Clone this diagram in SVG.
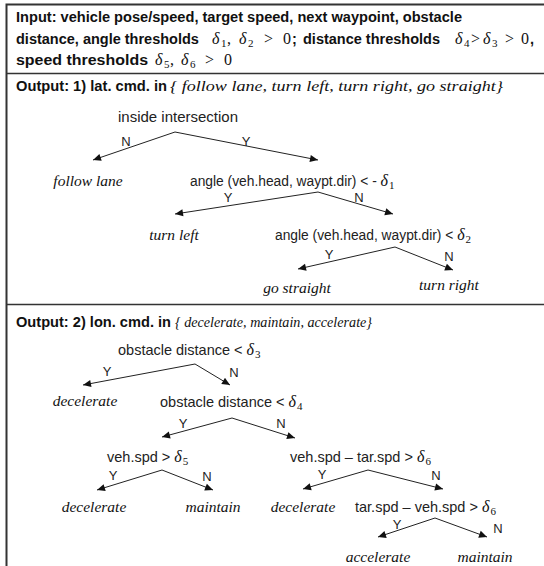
<svg xmlns="http://www.w3.org/2000/svg" width="544" height="566" viewBox="0 0 544 566">
<style>
.hd{font-family:"Liberation Sans",Arial,sans-serif;font-weight:bold;font-size:14.5px;fill:#111}
.hm{font-family:"Liberation Serif","Times New Roman",serif;font-size:16px;fill:#111}
.hi{font-family:"Liberation Serif","Times New Roman",serif;font-style:italic;font-size:15px;fill:#111}
.t{font-family:"Liberation Sans",Arial,sans-serif;font-size:14.5px;fill:#222}
.ta{font-family:"Liberation Sans",Arial,sans-serif;font-size:13.8px;fill:#222}
.lf{font-family:"Liberation Serif","Times New Roman",serif;font-style:italic;font-size:15.5px;fill:#111;text-anchor:middle}
.yn{font-family:"Liberation Sans",Arial,sans-serif;font-size:13px;fill:#222;text-anchor:middle}
.d{font-family:"Liberation Serif","Times New Roman",serif;font-style:italic;font-size:16px;fill:#111}
.s{font-family:"Liberation Serif","Times New Roman",serif;font-style:normal;font-size:11px;fill:#111}
.c line{stroke:#222;stroke-width:1}
</style>
<defs>
<marker id="ah" viewBox="0 0 10 10" refX="10" refY="5" markerWidth="9" markerHeight="8" markerUnits="userSpaceOnUse" orient="auto">
<path d="M0,0.5 L10,5 L0,9.5 z" fill="#111"/>
</marker>
</defs>
<rect width="544" height="566" fill="#fff"/>
<g id="frame" fill="none" stroke="#333">
<path d="M544,4.5 H6.5 V566" stroke-width="2"/>
<line x1="6" y1="73.5" x2="544" y2="73.5" stroke-width="1.5"/>
<line x1="6" y1="304.5" x2="544" y2="304.5" stroke-width="1.5"/>
</g>
<g id="input">
<text class="hd" x="16" y="22" textLength="446" lengthAdjust="spacingAndGlyphs">Input: vehicle pose/speed, target speed, next waypoint, obstacle</text>
<text class="hd" x="16" y="44">distance, angle thresholds</text>
<text class="hm" y="44"><tspan class="d" x="212">δ</tspan><tspan class="s" x="221" dy="3">1</tspan><tspan x="227" dy="-3">,</tspan><tspan class="d" x="239">δ</tspan><tspan class="s" x="248" dy="3">2</tspan><tspan x="264" dy="-3">&gt;</tspan><tspan x="283">0</tspan></text>
<text class="hd" x="292" y="44">;</text>
<text class="hd" x="303" y="44">distance thresholds</text>
<text class="hm" y="44"><tspan class="d" x="455">δ</tspan><tspan class="s" x="464" dy="3">4</tspan><tspan x="471" dy="-3">&gt;</tspan><tspan class="d" x="483">δ</tspan><tspan class="s" x="492" dy="3">3</tspan><tspan x="505" dy="-3">&gt;</tspan><tspan x="521">0</tspan></text>
<text class="hd" x="530" y="44">,</text>
<text class="hd" x="16" y="65" textLength="132" lengthAdjust="spacingAndGlyphs">speed thresholds</text>
<text class="hm" y="65"><tspan class="d" x="155">δ</tspan><tspan class="s" x="164" dy="3">5</tspan><tspan x="170" dy="-3">,</tspan><tspan class="d" x="181">δ</tspan><tspan class="s" x="190" dy="3">6</tspan><tspan x="205" dy="-3">&gt;</tspan><tspan x="224">0</tspan></text>
</g>
<g id="out1">
<text class="hd" x="16" y="91" textLength="151" lengthAdjust="spacingAndGlyphs">Output: 1) lat. cmd. in</text>
<text class="hi" x="170" y="91" textLength="333" lengthAdjust="spacingAndGlyphs">{ follow lane, turn left, turn right, go straight}</text>
</g>
<g id="out2">
<text class="hd" x="16" y="327" textLength="155" lengthAdjust="spacingAndGlyphs">Output: 2) lon. cmd. in</text>
<text class="hi" x="175" y="327" textLength="197" lengthAdjust="spacingAndGlyphs">{ decelerate, maintain, accelerate}</text>
</g>
<g id="n-inside"><text class="t" x="118" y="122" textLength="120" lengthAdjust="spacingAndGlyphs">inside intersection</text></g>
<g id="n-follow"><text class="lf" x="88" y="186">follow lane</text></g>
<g id="n-angle1"><text class="ta" x="190" y="186">angle (veh.head, waypt.dir) &lt; - <tspan class="d">δ</tspan><tspan class="s" dx="1" dy="3">1</tspan></text></g>
<g id="n-left"><text class="lf" x="174" y="240">turn left</text></g>
<g id="n-angle2"><text class="ta" x="275" y="240">angle (veh.head, waypt.dir) &lt; <tspan class="d">δ</tspan><tspan class="s" dx="1" dy="3">2</tspan></text></g>
<g id="n-straight"><text class="lf" x="297" y="293">go straight</text></g>
<g id="n-right"><text class="lf" x="449" y="290">turn right</text></g>
<g id="n-obs3"><text class="t" x="118" y="355">obstacle distance &lt; <tspan class="d">δ</tspan><tspan class="s" dx="1" dy="3">3</tspan></text></g>
<g id="n-dec1"><text class="lf" x="85" y="406">decelerate</text></g>
<g id="n-obs4"><text class="t" x="160" y="407">obstacle distance &lt; <tspan class="d">δ</tspan><tspan class="s" dx="1" dy="3">4</tspan></text></g>
<g id="n-spd5"><text class="t" x="107" y="462">veh.spd &gt; <tspan class="d">δ</tspan><tspan class="s" dx="1" dy="3">5</tspan></text></g>
<g id="n-spd6a"><text class="t" x="290" y="462">veh.spd – tar.spd &gt; <tspan class="d">δ</tspan><tspan class="s" dx="1" dy="3">6</tspan></text></g>
<g id="n-dec2"><text class="lf" x="94" y="512">decelerate</text></g>
<g id="n-main1"><text class="lf" x="213" y="512">maintain</text></g>
<g id="n-dec3"><text class="lf" x="303" y="512">decelerate</text></g>
<g id="n-spd6b"><text class="t" x="355" y="512">tar.spd – veh.spd &gt; <tspan class="d">δ</tspan><tspan class="s" dx="1" dy="3">6</tspan></text></g>
<g id="n-acc"><text class="lf" x="378" y="562">accelerate</text></g>
<g id="n-main2"><text class="lf" x="485" y="562">maintain</text></g>
<g id="connectors" class="c">
<line x1="175" y1="132" x2="93" y2="160" marker-end="url(#ah)"/>
<line x1="175" y1="132" x2="318" y2="160" marker-end="url(#ah)"/>
<line x1="318" y1="192" x2="175" y2="214" marker-end="url(#ah)"/>
<line x1="318" y1="192" x2="393" y2="214" marker-end="url(#ah)"/>
<line x1="395" y1="247" x2="298" y2="269" marker-end="url(#ah)"/>
<line x1="395" y1="247" x2="453" y2="270" marker-end="url(#ah)"/>
<line x1="195" y1="364" x2="83" y2="385" marker-end="url(#ah)"/>
<line x1="195" y1="364" x2="230" y2="385" marker-end="url(#ah)"/>
<line x1="232" y1="418" x2="162" y2="437" marker-end="url(#ah)"/>
<line x1="232" y1="418" x2="295" y2="438" marker-end="url(#ah)"/>
<line x1="162" y1="470" x2="97" y2="490" marker-end="url(#ah)"/>
<line x1="162" y1="470" x2="213" y2="490" marker-end="url(#ah)"/>
<line x1="368" y1="470" x2="303" y2="489" marker-end="url(#ah)"/>
<line x1="368" y1="470" x2="443" y2="489" marker-end="url(#ah)"/>
<line x1="435" y1="518" x2="378" y2="537" marker-end="url(#ah)"/>
<line x1="435" y1="518" x2="487" y2="537" marker-end="url(#ah)"/>
</g>
<g id="labels">
<text class="yn" x="126" y="146">N</text>
<text class="yn" x="246" y="146">Y</text>
<text class="yn" x="228" y="202">Y</text>
<text class="yn" x="359" y="202">N</text>
<text class="yn" x="329" y="259">Y</text>
<text class="yn" x="449" y="261">N</text>
<text class="yn" x="107" y="376">Y</text>
<text class="yn" x="234" y="377">N</text>
<text class="yn" x="183" y="428">Y</text>
<text class="yn" x="281" y="428">N</text>
<text class="yn" x="113" y="480">Y</text>
<text class="yn" x="207" y="481">N</text>
<text class="yn" x="322" y="479">Y</text>
<text class="yn" x="436" y="480">N</text>
<text class="yn" x="397" y="529">Y</text>
<text class="yn" x="498" y="533">N</text>
</g>
</svg>
